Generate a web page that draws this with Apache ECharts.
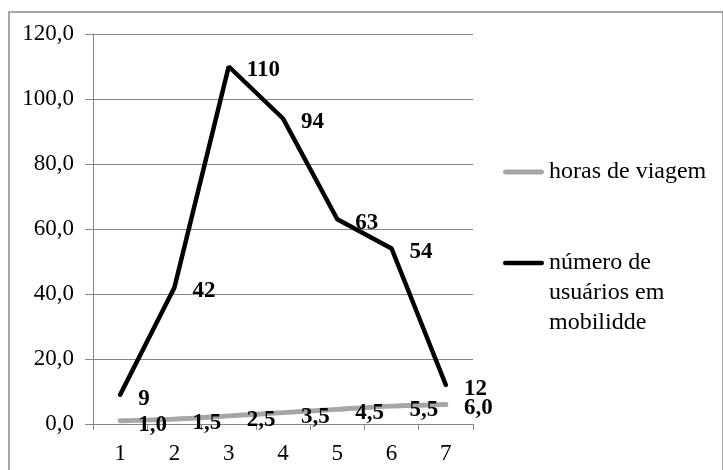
<!DOCTYPE html>
<html>
<head>
<meta charset="utf-8">
<script src="https://cdn.jsdelivr.net/npm/echarts@6/dist/echarts.min.js"></script>
<style>
html,body{margin:0;padding:0;background:#fff;}
#chart{width:723px;height:470px;}
</style>
</head>
<body>
<div id="chart"></div>
<script>
var categories = ['1','2','3','4','5','6','7'];
var horasViagem = [1.0, 1.5, 2.5, 3.5, 4.5, 5.5, 6.0];
var usuarios = [9, 42, 110, 94, 63, 54, 12];
var seriesNames = ['horas de viagem', 'número de usuários em mobilidde'];
var yTicks = {min: 0, max: 120, interval: 20};

var FONT = '"Liberation Serif", "Times New Roman", serif';
function fmt1(v){ return Number(v).toFixed(1).replace('.', ','); }

var iconGray = 'path://M0,0 L0.01,0.01 M41,30 L40.99,29.99 M2,12.5 L39,12.5 A2.5,2.5 0 0 1 39,17.5 L2,17.5 A2.5,2.5 0 0 1 2,12.5 Z';
var iconBlack = 'path://M0,0 L0.01,0.01 M41,90 L40.99,89.99 M2,12.8 L39,12.8 A2.2,2.2 0 0 1 39,17.2 L2,17.2 A2.2,2.2 0 0 1 2,12.8 Z';

var chart = echarts.init(document.getElementById('chart'));
chart.setOption({
  animation: false,
  backgroundColor: '#fff',
  graphic: [{
    type: 'rect', silent: true,
    shape: {x: 9, y: 12, width: 714, height: 470},
    style: {fill: 'none', stroke: '#8a8a8a', lineWidth: 1.5}
  }],
  grid: {left: 93, right: 250, top: 34, bottom: 46, containLabel: false},
  legend: [{
    orient: 'vertical',
    left: 498, top: 152,
    data: [{name: seriesNames[0], icon: iconGray}],
    itemWidth: 41, itemHeight: 30,
    symbolKeepAspect: false,
    itemStyle: {borderWidth: 0},
    textStyle: {fontFamily: FONT, fontSize: 24, color: '#000'}
  }, {
    orient: 'vertical',
    left: 498, top: 243,
    data: [{name: seriesNames[1], icon: iconBlack}],
    itemWidth: 41, itemHeight: 90,
    symbolKeepAspect: false,
    itemStyle: {borderWidth: 0},
    formatter: function(){ return 'número de\nusuários em\nmobilidde'; },
    textStyle: {fontFamily: FONT, fontSize: 24, color: '#000', lineHeight: 30}
  }],
  xAxis: {
    type: 'category',
    data: categories,
    boundaryGap: true,
    axisLine: {lineStyle: {color: '#868686', width: 1}},
    axisTick: {show: true, length: 6, lineStyle: {color: '#868686'}},
    axisLabel: {fontFamily: FONT, fontSize: 23, color: '#000', margin: 18}
  },
  yAxis: {
    type: 'value',
    min: yTicks.min, max: yTicks.max, interval: yTicks.interval,
    axisLine: {show: true, lineStyle: {color: '#868686', width: 1}},
    axisTick: {show: true, length: 8, lineStyle: {color: '#868686'}},
    splitLine: {show: true, lineStyle: {color: '#868686', width: 1}},
    axisLabel: {fontFamily: FONT, fontSize: 23, color: '#000', margin: 19, formatter: fmt1}
  },
  series: [{
    name: seriesNames[0],
    type: 'line',
    data: horasViagem,
    smooth: 0.3,
    symbol: 'circle', symbolSize: 0.1, showSymbol: true,
    itemStyle: {color: '#a6a6a6'},
    lineStyle: {color: '#a6a6a6', width: 5, cap: 'round'},
    label: {show: true, position: 'right', distance: 18, offset: [0, 4],
      fontFamily: FONT, fontSize: 23, fontWeight: 'bold', color: '#000', formatter: function(p){ return fmt1(p.value); }},
    z: 2
  }, {
    name: seriesNames[1],
    type: 'line',
    data: usuarios,
    symbol: 'circle', symbolSize: 0.1, showSymbol: true,
    itemStyle: {color: '#000'},
    lineStyle: {color: '#000', width: 4.5, cap: 'round'},
    label: {show: true, position: 'right', distance: 18, offset: [0, 4],
      fontFamily: FONT, fontSize: 23, fontWeight: 'bold', color: '#000'},
    z: 3
  }]
});
</script>
</body>
</html>
